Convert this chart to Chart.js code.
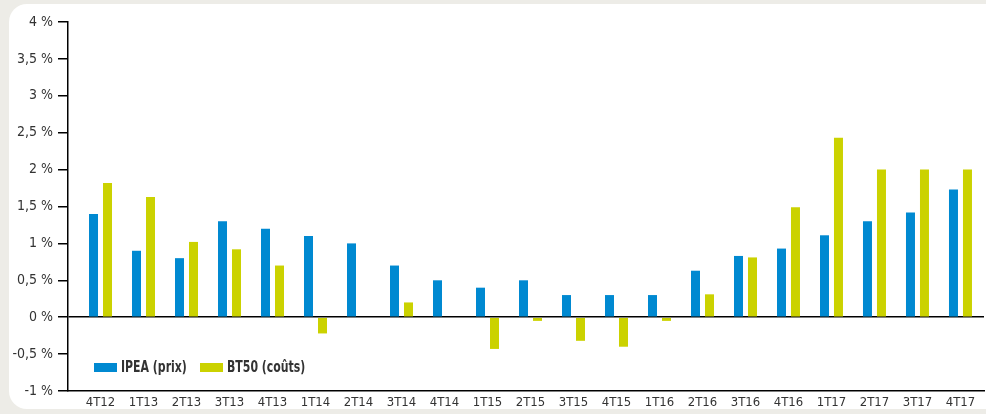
<!DOCTYPE html>
<html lang="fr">
<head>
<meta charset="utf-8">
<title>IPEA et BT50</title>
<script src="https://cdn.jsdelivr.net/npm/chart.js@4.4.1/dist/chart.umd.min.js"></script>
<style>
  html, body { margin: 0; padding: 0; }
  body { width: 986px; height: 414px; background: #edece7; position: relative; overflow: hidden;
         font-family: 'DejaVu Sans Condensed', 'Liberation Sans Narrow', sans-serif; }
  #panel { position: absolute; left: 9px; top: 4px; width: 1000px; height: 405px; background: #fff; border-radius: 18px; }
  #graph { position: absolute; left: 0; top: 0; }
  #legend { position: absolute; left: 94px; top: 358px; display: flex; align-items: center; color: #333;
            font-size: 15px; font-weight: bold; }
  #legend span.item { display: flex; align-items: center; width: 106px; white-space: nowrap; }
  #legend span.box { display: inline-block; width: 23px; height: 9px; margin-right: 4px; flex: none; }
  #legend span.txt { display: inline-block; transform: scaleX(0.81); transform-origin: left center; }
</style>
</head>
<body>
<div id="panel"></div>
<canvas id="graph" width="986" height="414"></canvas>
<div id="legend"></div>
<script>
// trimestres
const quarters = ["4T12", "1T13", "2T13", "3T13", "4T13", "1T14", "2T14", "3T14", "4T14", "1T15", "2T15",
                  "3T15", "4T15", "1T16", "2T16", "3T16", "4T16", "1T17", "2T17", "3T17", "4T17"];
// évolution en %
const ipea = [1.4, 0.9, 0.8, 1.3, 1.2, 1.1, 1.0, 0.7, 0.5, 0.4, 0.5,
              0.3, 0.3, 0.3, 0.63, 0.83, 0.93, 1.11, 1.3, 1.42, 1.73];
const bt50 = [1.82, 1.63, 1.02, 0.92, 0.7, -0.22, 0, 0.2, 0, -0.43, -0.05,
              -0.32, -0.4, -0.05, 0.31, 0.81, 1.49, 2.43, 2.0, 2.0, 2.0];
const yTicks = [-1, -0.5, 0, 0.5, 1, 1.5, 2, 2.5, 3, 3.5, 4];

const fontFamily = "'DejaVu Sans Condensed', 'Liberation Sans Narrow', sans-serif";
const toPoints = arr => arr.map((v, i) => ({ x: i, y: v }));

const chart = new Chart(document.getElementById("graph"), {
  type: 'bar',
  data: {
    datasets: [
      { label: "IPEA (prix)", data: toPoints(ipea), backgroundColor: "#0089d1" },
      { label: "BT50 (coûts)", data: toPoints(bt50), backgroundColor: "#cbd200" }
    ]
  },
  options: {
    responsive: false,
    devicePixelRatio: 1,
    animation: false,
    categoryPercentage: 0.651,
    barPercentage: 0.643,
    layout: { padding: { top: 22, right: 2, left: 0, bottom: 0 } },
    plugins: { legend: { display: false }, tooltip: { enabled: false } },
    scales: {
      x: {
        type: 'linear',
        offset: false,
        min: -0.756,
        max: 20.547,
        afterBuildTicks: s => { s.ticks = quarters.map((q, i) => ({ value: i })); },
        afterFit: s => { s.height = 23; },
        grid: { display: false, drawTicks: false, offset: false },
        border: { display: true, color: '#000', width: 1.5 },
        ticks: {
          autoSkip: false, maxRotation: 0, padding: 4, color: '#333',
          font: { family: fontFamily, size: 13 },
          callback: v => quarters[v]
        }
      },
      y: {
        min: -1,
        max: 4,
        afterBuildTicks: s => { s.ticks = yTicks.map(v => ({ value: v })); },
        afterFit: s => { s.width = 68; },
        border: { display: true, color: '#000', width: 1.5 },
        grid: {
          drawOnChartArea: true,
          color: c => (c.tick && c.tick.value === 0) ? '#000' : 'rgba(0,0,0,0)',
          lineWidth: 1.5,
          tickColor: '#000',
          tickLength: 10
        },
        ticks: {
          padding: 5, color: '#333',
          font: { family: fontFamily, size: 14 },
          callback: v => String(v).replace('.', ',') + ' %'
        }
      }
    }
  }
});

// légende
const legend = document.getElementById("legend");
chart.data.datasets.forEach(ds => {
  const item = document.createElement("span");
  item.className = "item";
  const box = document.createElement("span");
  box.className = "box";
  box.style.background = ds.backgroundColor;
  const txt = document.createElement("span");
  txt.className = "txt";
  txt.textContent = ds.label;
  item.appendChild(box);
  item.appendChild(txt);
  legend.appendChild(item);
});
</script>
</body>
</html>
